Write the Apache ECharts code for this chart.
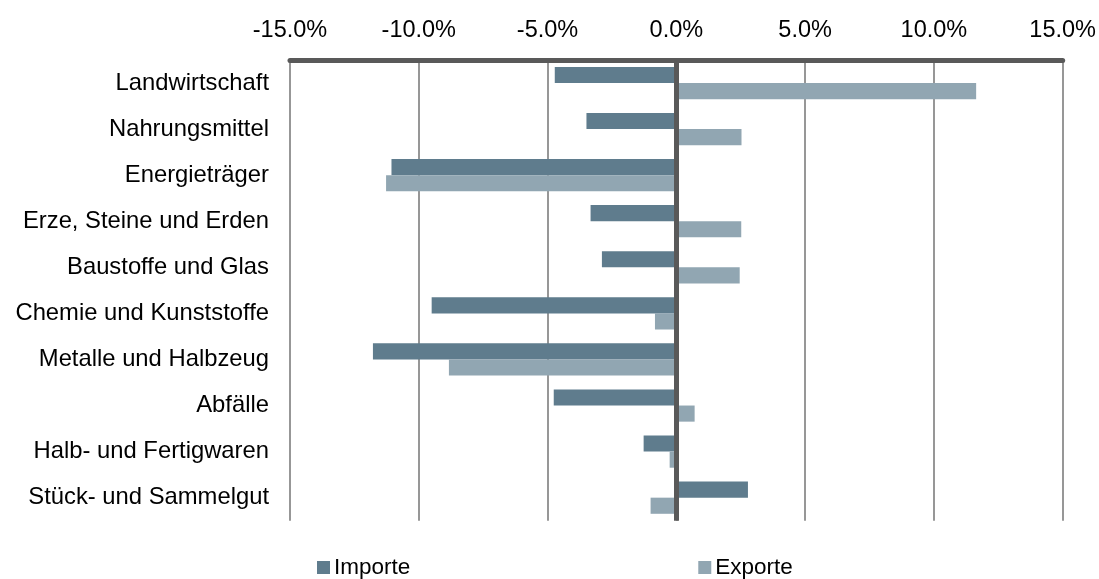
<!DOCTYPE html>
<html>
<head>
<meta charset="utf-8">
<title>Importe und Exporte nach Gütergruppen</title>
<script src="https://cdn.jsdelivr.net/npm/echarts@6/dist/echarts.min.js"></script>
<style>
  html, body { margin: 0; padding: 0; background: #ffffff; }
  #chart { width: 1099px; height: 579px; }
</style>
</head>
<body>
<div id="chart"></div>
<script>
// Gütergruppen, von oben nach unten
const categories = [
  'Landwirtschaft',
  'Nahrungsmittel',
  'Energieträger',
  'Erze, Steine und Erden',
  'Baustoffe und Glas',
  'Chemie und Kunststoffe',
  'Metalle und Halbzeug',
  'Abfälle',
  'Halb- und Fertigwaren',
  'Stück- und Sammelgut'
];

// Veränderung in Prozent
const importe = [-4.72, -3.49, -11.06, -3.33, -2.89, -9.50, -11.78, -4.76, -1.27, 2.78];
const exporte = [11.64, 2.53, -11.27, 2.52, 2.46, -0.83, -8.83, 0.71, -0.26, -1.00];

// Achsenskala
const axisMin = -15;
const axisMax = 15;
const axisStep = 5;

const font = '"Liberation Sans", Arial, sans-serif';

const chart = echarts.init(document.getElementById('chart'), null, { renderer: 'canvas' });

chart.setOption({
  animation: false,
  backgroundColor: '#ffffff',
  textStyle: { fontFamily: font },
  grid: {
    left: 290,
    right: 36.3,
    top: 60,
    bottom: 58.3,
    containLabel: false
  },
  legend: {
    data: ['Importe', 'Exporte'],
    left: 317,
    top: 556,
    padding: 0,
    itemWidth: 13,
    itemHeight: 13,
    itemGap: 288,
    icon: 'rect',
    textStyle: { fontFamily: font, fontSize: 22.5, color: '#000000', padding: [0, 0, 0, -1] }
  },
  xAxis: {
    type: 'value',
    position: 'top',
    min: axisMin,
    max: axisMax,
    interval: axisStep,
    axisLine: { show: true, lineStyle: { color: '#595959', width: 5 } },
    axisTick: { show: false },
    axisLabel: {
      fontFamily: font,
      fontSize: 23.5,
      color: '#000000',
      margin: 17,
      formatter: v => v.toFixed(1) + '%'
    },
    splitLine: { show: true, lineStyle: { color: '#858585', width: 1.7 } }
  },
  yAxis: {
    type: 'category',
    data: categories,
    inverse: true,
    axisLine: { show: false },
    axisTick: { show: false },
    axisLabel: {
      fontFamily: font,
      fontSize: 23.8,
      color: '#000000',
      margin: 21
    },
    splitLine: { show: false }
  },
  series: [
    {
      name: 'Importe',
      type: 'bar',
      data: importe,
      barGap: '0%',
      barCategoryGap: '30%',
      itemStyle: { color: '#5f7c8d' }
    },
    {
      name: 'Exporte',
      type: 'bar',
      data: exporte,
      barGap: '0%',
      barCategoryGap: '30%',
      itemStyle: { color: '#91a6b2' },
      markLine: {
        silent: true,
        symbol: 'none',
        label: { show: false },
        lineStyle: { color: '#595959', width: 5, type: 'solid' },
        data: [{ xAxis: 0 }]
      }
    }
  ]
});
</script>
</body>
</html>
